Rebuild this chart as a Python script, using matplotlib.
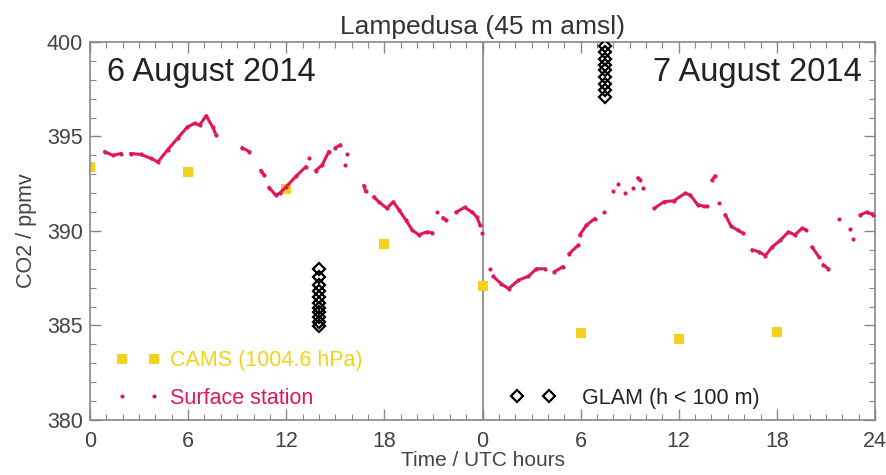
import numpy as np
import matplotlib
matplotlib.use("Agg")
import matplotlib.pyplot as plt
from matplotlib.ticker import MultipleLocator

plt.rcParams['font.family'] = ['Liberation Sans', 'DejaVu Sans']

nan = np.nan

# surface station (hours since 6 Aug 00 UTC), nan = gap in record
station_hours = [0.9, 1.4, 1.9, nan,
                 2.5, 3.1, 3.7, 4.15, 4.75, 5.35, 5.95, 6.4, 6.7, 7.1, 7.5, 7.7, nan,
                 9.3, 9.75, nan, 10.45, 10.65, nan,
                 10.95, 11.35, 11.6, 12.0, 12.6, 13.2, nan, 13.4, nan,
                 13.8, 14.2, 14.6, nan, 15.0, 15.3, nan, 15.6, nan, 15.7, nan,
                 16.75, 16.85, nan,
                 17.35, 17.65, 18.15, 18.55, 18.9, 19.3, 19.7, 20.1, 20.6, 20.9, nan,
                 21.2, nan, 21.6, 21.75, nan,
                 22.4, 22.9, 23.35, 23.65, 23.85, nan, 23.95, nan,
                 24.45, nan,
                 24.65, 25.15, 25.6, 26.2, 26.8, 27.3, 27.8, nan,
                 28.4, 28.9, nan, 29.3, 29.85, nan,
                 29.95, 30.35, 30.85, nan, 31.45, nan,
                 31.95, nan, 32.3, nan, 32.7, nan, 33.2, nan, 33.5, 33.65, nan, 33.8, nan,
                 34.5, 35.1, 35.7, 36.4, 36.7, 37.15, 37.55, 37.75, nan,
                 38.05, 38.2, nan, 38.45, nan,
                 38.85, 39.2, 39.6, 39.9, nan,
                 40.5, 40.9, 41.3, 41.7, 42.2, 42.7, 43.1, 43.55, 43.8, nan,
                 44.15, 44.55, nan, 44.85, 45.15, nan,
                 45.8, nan, 46.45, nan, 46.65, nan,
                 47.1, 47.5, 47.9]
station_co2 = [394.2, 394.0, 394.1, nan,
               394.1, 394.05, 393.85, 393.65, 394.3, 394.9, 395.5, 395.7, 395.6, 396.1, 395.5, 395.1, nan,
               394.4, 394.2, nan, 393.2, 392.95, nan,
               392.3, 391.9, 392.0, 392.35, 392.9, 393.4, nan, 393.85, nan,
               393.2, 393.5, 394.2, nan, 394.4, 394.55, nan, 393.5, nan, 394.1, nan,
               392.4, 392.1, nan,
               391.8, 391.55, 391.2, 391.55, 391.1, 390.6, 390.05, 389.8, 389.95, 389.9, nan,
               391.0, nan, 390.7, 390.6, nan,
               391.0, 391.25, 391.0, 390.75, 390.3, nan, 389.9, nan,
               388.0, nan,
               387.6, 387.2, 386.95, 387.4, 387.6, 388.0, 388.0, nan,
               387.85, 388.1, nan, 388.8, 389.25, nan,
               389.8, 390.3, 390.65, nan, 391.0, nan,
               392.1, nan, 392.5, nan, 392.0, nan, 392.25, nan, 392.8, 392.7, nan, 392.25, nan,
               391.2, 391.55, 391.6, 392.0, 391.9, 391.4, 391.3, 391.3, nan,
               392.7, 392.9, nan, 391.5, nan,
               390.85, 390.25, 390.05, 389.9, nan,
               389.0, 388.9, 388.7, 389.15, 389.5, 389.95, 389.8, 390.15, 390.05, nan,
               389.15, 388.65, nan, 388.2, 388.0, nan,
               390.65, nan, 390.1, nan, 389.55, nan,
               390.85, 391.0, 390.85]

# CAMS model at 1004.6 hPa, every 6 h
cams_hours = [0, 6, 12, 18, 24, 30, 36, 42]
cams_co2 = [393.4, 393.1, 392.2, 389.3, 387.1, 384.6, 384.3, 384.65]

# GLAM aircraft profiles below 100 m
glam_hours = [14.0] * 11 + [31.5] * 9
glam_co2 = [384.95, 385.2, 385.45, 385.7, 385.95, 386.2, 386.5, 386.8, 387.15, 387.55, 388.0,
            397.1, 397.45, 397.8, 398.15, 398.5, 398.8, 399.1, 399.45, 399.8]

xtick_pos = [0, 6, 12, 18, 24, 30, 36, 42, 48]
xtick_lab = ['0', '6', '12', '18', '0', '6', '12', '18', '24']

c_station = '#e0175c'
c_cams = '#f2d21b'
grey = '#444444'

fig = plt.figure(figsize=(8.86, 4.75), dpi=100)
ax = fig.add_axes([0.1016, 0.1158, 0.8860, 0.7958])

ax.axvline(24, color='#999999', lw=1.5, zorder=1)

ax.plot(station_hours, station_co2, '-', color=c_station, lw=2.2, zorder=3)
st = ax.plot(station_hours, station_co2, 'o', color=c_station, ms=3, mew=0,
             label='Surface station', zorder=3)[0]
cm = ax.plot(cams_hours, cams_co2, 's', color=c_cams, ms=7.5, mew=0,
             label='CAMS (1004.6 hPa)', zorder=2)[0]
gl = ax.plot(glam_hours, glam_co2, 'D', mfc='none', mec='black', mew=1.6, ms=6.5,
             ls='none', label='GLAM (h < 100 m)', zorder=4)[0]

ax.set_xlim(0, 48)
ax.set_ylim(380, 400)
ax.set_xticks(xtick_pos)
ax.set_xticklabels(xtick_lab)
ax.xaxis.set_minor_locator(MultipleLocator(1))
ax.yaxis.set_major_locator(MultipleLocator(5))
ax.yaxis.set_minor_locator(MultipleLocator(1))
ax.tick_params(which='both', direction='in', top=True, right=True,
               colors='#888888', labelcolor=grey, labelsize=15.5)
ax.tick_params(which='major', length=8, width=1)
ax.tick_params(which='minor', length=4, width=0.8)
ax.tick_params(axis='x', pad=8)
ax.tick_params(axis='y', pad=5)
for s in ax.spines.values():
    s.set_color('#888888')
    s.set_linewidth(1.2)

ax.set_title('Lampedusa (45 m amsl)', fontsize=19, color='#333333', pad=6)
ax.set_xlabel('Time / UTC hours', fontsize=15, color='#444444', labelpad=-1)
ax.set_ylabel('CO2 / ppmv', fontsize=15.5, color='#444444', labelpad=7)

ax.text(0.022, 0.92, '6 August 2014', transform=ax.transAxes, fontsize=23.5,
        color='#222222', va='center', ha='left')
ax.text(0.983, 0.92, '7 August 2014', transform=ax.transAxes, fontsize=23.5,
        color='#222222', va='center', ha='right')

leg1 = ax.legend(handles=[cm, st], loc='lower left', bbox_to_anchor=(0.0325, 0.03),
                 numpoints=2, frameon=False, fontsize=15.5, borderpad=0,
                 borderaxespad=0, handlelength=2.1, handletextpad=0.44,
                 labelspacing=0.77)
leg1.get_texts()[0].set_color(c_cams)
leg1.get_texts()[1].set_color(c_station)
ax.add_artist(leg1)
leg2 = ax.legend(handles=[gl], loc='lower left', bbox_to_anchor=(0.5357, 0.03),
                 numpoints=2, frameon=False, fontsize=15.5, borderpad=0,
                 borderaxespad=0, handlelength=2.1, handletextpad=1.2)
leg2.get_texts()[0].set_color('#222222')

fig.savefig('out.png', dpi=100)
